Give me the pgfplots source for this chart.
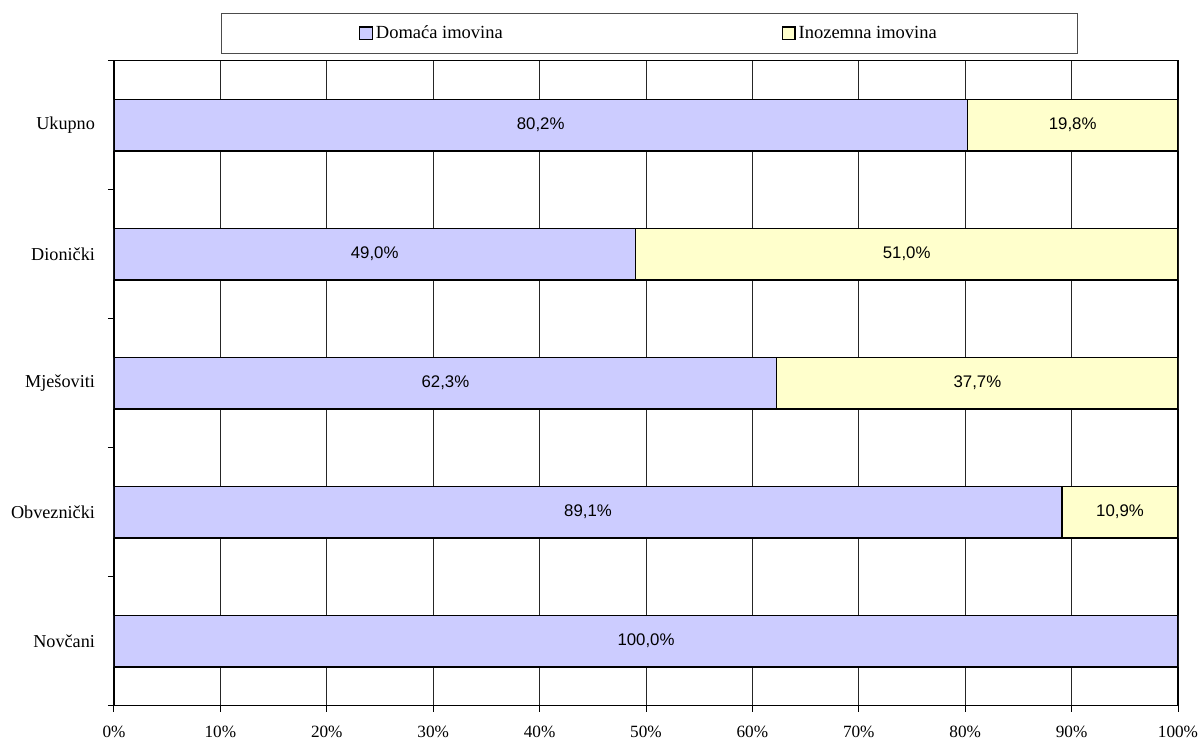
\documentclass[border=0pt]{standalone}
\usepackage{fontspec}
\setmainfont{Liberation Serif}
\newfontfamily\arial{Liberation Sans}
\usepackage{pgfplots}
\pgfplotsset{compat=1.18}

\definecolor{domaca}{HTML}{CCCCFF}
\definecolor{inozemna}{HTML}{FFFFCC}

\begin{document}
\begin{tikzpicture}
\begin{axis}[
  scale only axis,
  width=532pt, height=322.5pt,
  xbar stacked,
  bar width=0.4,
  xmin=0, xmax=100,
  ymin=-0.5, ymax=4.5,
  font=\fontsize{9.1}{11}\selectfont,
  /pgf/number format/assume math mode=true,
  axis line style={black, line width=0.6pt},
  tick pos=left,
  xtick={0,10,...,100},
  xticklabels={0\%,10\%,20\%,30\%,40\%,50\%,60\%,70\%,80\%,90\%,100\%},
  xmajorgrids,
  major grid style={black!85, line width=0.5pt},
  tick align=outside,
  tick style={black, line width=0.5pt},
  major tick length=3pt,
  xticklabel style={yshift=-3.5pt, font=\fontsize{8.6}{10}\selectfont},
  ytick={0,1,2,3,4},
  yticklabels={Novčani,Obveznički,Mješoviti,Dionički,Ukupno},
  y tick style={draw=none},
  yticklabel style={xshift=-3pt},
  extra y ticks={-0.5,0.5,1.5,2.5,3.5,4.5},
  extra y tick labels={},
  extra y tick style={y tick style={draw=black, line width=0.5pt}, ymajorgrids=false, major tick length=3pt, tick pos=left},
  legend columns=2,
  legend style={
    at={(0.5,1)}, anchor=south, yshift=3.35pt, xshift=1.75pt,
    draw=black!70, line width=0.5pt,
    inner xsep=69pt, inner ysep=4pt,
    font=\fontsize{9.25}{11}\selectfont,
    nodes={inner xsep=1.5pt},
    /tikz/every even column/.append style={column sep=138pt},
  },
  legend image code/.code={
    \draw[#1, draw=black, line width=0.6pt] (0pt,-3pt) rectangle (6.3pt,3.3pt);
  },
  visualization depends on=rawx \as \rawx,
  point meta=x,
  nodes near coords={\ifdim\rawx pt>0.05pt\pgfmathprintnumber[fixed,fixed zerofill,precision=1,use comma]{\rawx}\%\fi},
  every node near coord/.append style={
    anchor=center, font=\arial\fontsize{8.4}{10}\selectfont, text=black
  },
]
\addplot[fill=domaca, draw=black, line width=0.6pt]
  coordinates {(100.0,0) (89.1,1) (62.3,2) (49.0,3) (80.2,4)};
\addlegendentry{Domaća imovina}
\addplot[fill=inozemna, draw=black, line width=0.6pt]
  coordinates {(0.0,0) (10.9,1) (37.7,2) (51.0,3) (19.8,4)};
\addlegendentry{Inozemna imovina}
\end{axis}
\pgfresetboundingbox
\path[use as bounding box]
  ([xshift=-57pt,yshift=-17.15pt]current axis.south west)
  rectangle ([xshift=11.5pt,yshift=30.35pt]current axis.north east);
\end{tikzpicture}
\end{document}
